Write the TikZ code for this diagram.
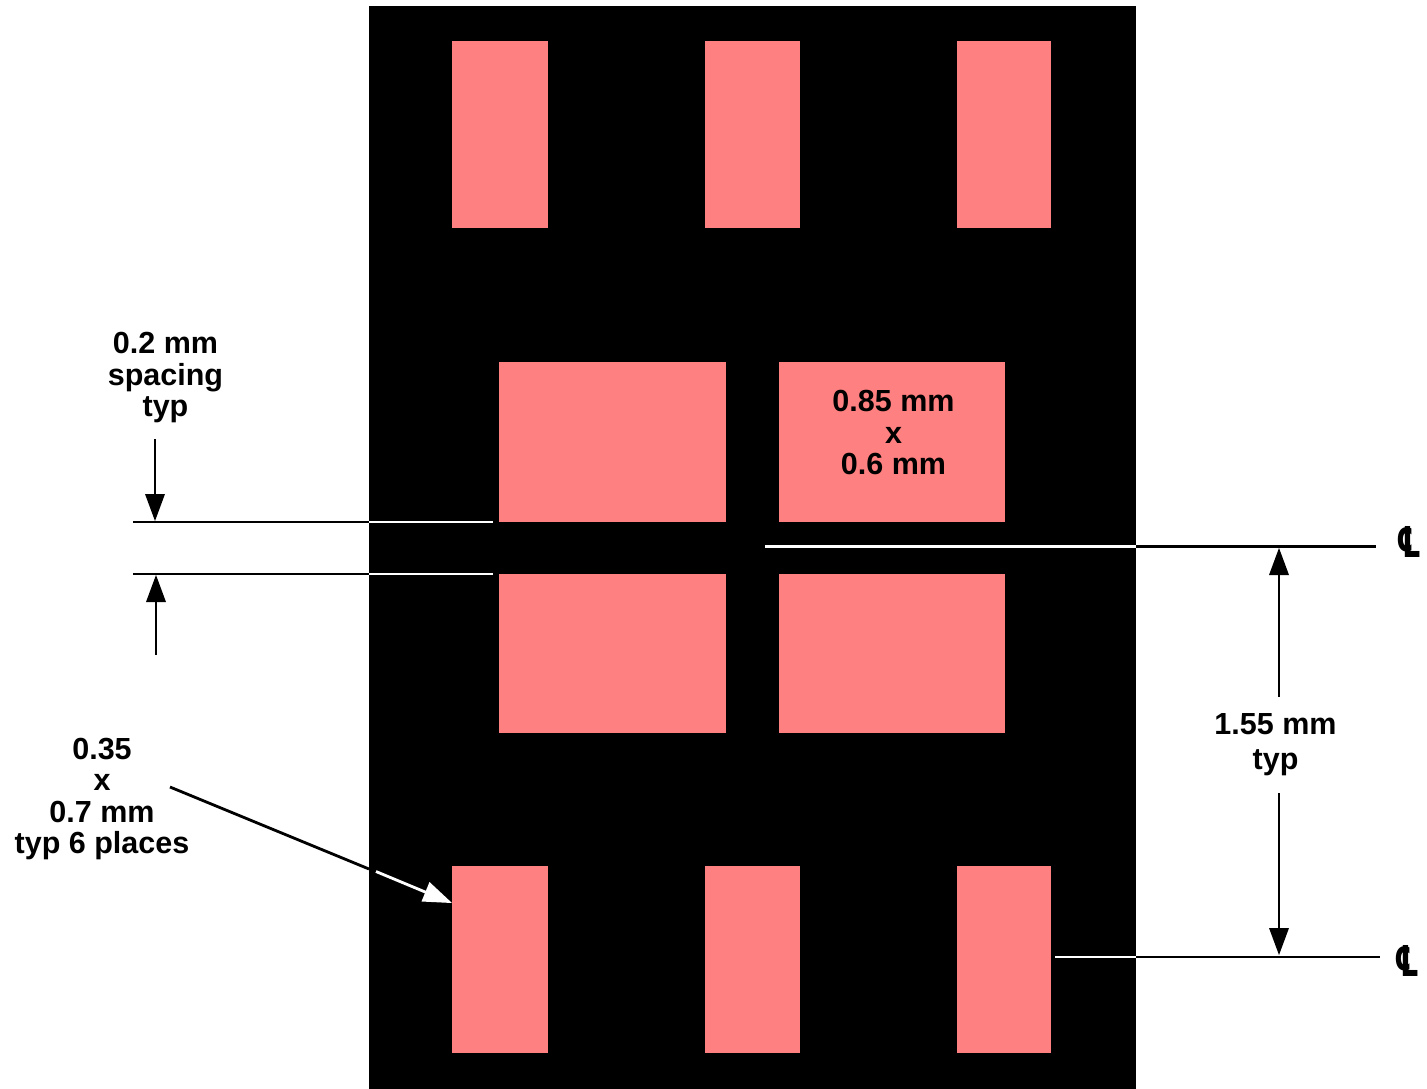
\documentclass[tikz,border=0pt]{standalone}
\usepackage{fontspec}
\setmainfont{Liberation Sans}
\newfontfamily\clfont{DejaVu Sans Bold}
\begin{document}
\begin{tikzpicture}[x=1pt,y=-1pt,
  lab/.style={font=\fontsize{30.5}{31.5}\selectfont\bfseries,align=center,inner sep=0pt},
  dimline/.style={line width=2.8pt},
  shaft/.style={line width=2.8pt},
  clsym/.style={inner sep=0pt,font=\fontsize{38}{38}\selectfont\clfont}]
\definecolor{padred}{RGB}{255,128,128}
\useasboundingbox (0,0) rectangle (1427,1089);
\fill[white] (0,0) rectangle (1427,1089);
\fill[black] (369,6) rectangle (1136,1089);
% pads
\foreach \n/\xa/\xb/\ya/\yb in {t1/452/548/41/228,t2/705/800/41/228,t3/957/1051/41/228,
  m1/499/726/362/522,m2/779/1005/362/522,n1/499/726/574/733,n2/779/1005/574/733,
  b1/452/548/866/1053,b2/705/800/866/1053,b3/957/1051/866/1053}{
  \fill[padred] (\xa,\ya) rectangle (\xb,\yb);
}
% coordinates
\coordinate (ul) at (133,522); \coordinate (ue) at (369,522); \coordinate (uw) at (493,522);
\coordinate (ll) at (133,574); \coordinate (le) at (369,574); \coordinate (lw) at (493,574);
\coordinate (c1a) at (765,546.5); \coordinate (c1e) at (1136,546.5); \coordinate (c1b) at (1376,546.5);
\coordinate (c2a) at (1055,957); \coordinate (c2e) at (1136,957); \coordinate (c2b) at (1380,957);
\draw[dimline] (ul) -- (ue); \draw[dimline,white] (ue) -- (uw);
\draw[dimline] (ll) -- (le); \draw[dimline,white] (le) -- (lw);
\draw[dimline,white] (c1a) -- (c1e); \draw[dimline] (c1e) -- (c1b);
\draw[dimline,white] (c2a) -- (c2e); \draw[dimline] (c2e) -- (c2b);
% labels
\node[lab] (spc) at (165.5,378) {0.2 mm\\spacing\\typ};
\node[lab] (size) at (893.5,432.5) {0.85 mm\\x\\0.6 mm};
\node[lab] (pl) at (102,799) {0.35\\x\\0.7 mm\\typ 6 places};
\node[lab,font=\fontsize{30.5}{35}\selectfont\bfseries] (typ) at (1275.5,745) {1.55 mm\\typ};
% centre line marks
\node[clsym,xscale=.74,yscale=1.12] (cl1) at (1409,541.5) {℄};
\node[clsym,xscale=.74,yscale=1.12] (cl2) at (1407.5,961) {℄};
% arrows
\coordinate (a1s) at (155,439); \coordinate (a1e) at (155,521);
\coordinate (a2s) at (156,655); \coordinate (a2e) at (156,575);
\coordinate (a3s) at (1279,697); \coordinate (a3e) at (1279,548);
\coordinate (a4s) at (1279,793); \coordinate (a4e) at (1279,955);
\foreach \s/\e in {a1s/a1e,a2s/a2e,a3s/a3e,a4s/a4e}{
  \draw[shaft,shorten >=20pt] (\s) -- (\e);
}
\fill (a1e) -- ++(-10,-27) -- ++(20,0) -- cycle;
\fill (a2e) -- ++(-10,27) -- ++(20,0) -- cycle;
\fill (a3e) -- ++(-10,27) -- ++(20,0) -- cycle;
\fill (a4e) -- ++(-10,-27) -- ++(20,0) -- cycle;
% leader
\coordinate (ls) at (170,787); \coordinate (lm) at (369,869);
\coordinate (lw2) at (376,871.5); \coordinate (lt) at (452,903);
\draw[shaft] (ls) -- (lm);
\draw[shaft,white] (lw2) -- (430,894);
\fill[white] (lt) -- (429.5,882) -- (421.5,901.5) -- cycle;
\end{tikzpicture}
\end{document}
